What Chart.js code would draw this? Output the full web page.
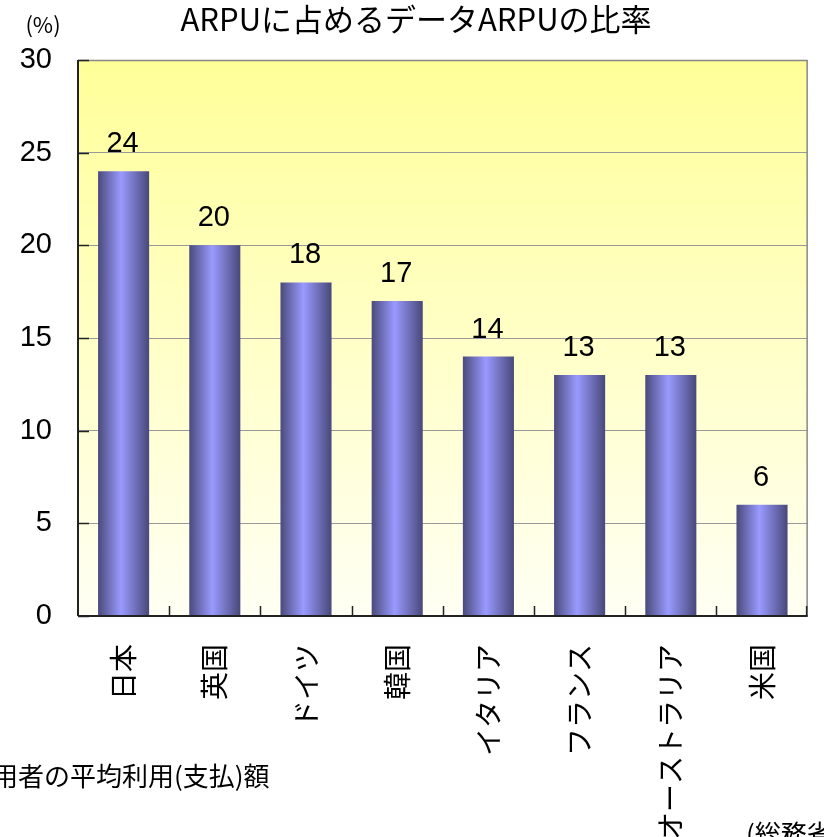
<!DOCTYPE html>
<html><head><meta charset="utf-8">
<script src="https://cdn.jsdelivr.net/npm/chart.js@4"></script>
<style>html,body{margin:0;padding:0;background:#fff}#wrap{width:824px;height:837px}</style>
</head><body><div id="wrap"><canvas id="c" width="824" height="837"></canvas></div>
<script>
const categories = ['日本','英国','ドイツ','韓国','イタリア','フランス','オーストラリア','米国'];
const values = [24, 20, 18, 17, 14, 13, 13, 6];
const yTicks = [0, 5, 10, 15, 20, 25, 30];
const titleText = 'ARPUに占めるデータARPUの比率';
const unitText = '(%)';
const noteText = '用者の平均利用(支払)額';
const sourceText = '(総務省';

const JP = '"Noto Sans CJK JP", "Liberation Sans", sans-serif';
const NUM = '"Liberation Sans", Arial, sans-serif';
const BAR_PCT = 0.56;

function barGradient(ctx) {
  const chart = ctx.chart;
  const xs = chart.scales.x;
  if (!xs || !chart.chartArea) return '#8888ee';
  const c = xs.getPixelForValue(ctx.dataIndex);
  const hw = (xs.width / categories.length) * BAR_PCT / 2;
  const g = chart.ctx.createLinearGradient(c - hw, 0, c + hw, 0);
  g.addColorStop(0, '#4a4a7c');
  g.addColorStop(0.45, '#9a9aff');
  g.addColorStop(1, '#48487a');
  return g;
}

const deco = {
  id: 'deco',
  beforeDraw(chart) {
    const {ctx, chartArea: a} = chart;
    const g = ctx.createLinearGradient(0, a.top, 0, a.bottom);
    g.addColorStop(0, '#ffff99');
    g.addColorStop(1, '#fffff4');
    ctx.save();
    ctx.fillStyle = g;
    ctx.fillRect(a.left, a.top, a.right - a.left, a.bottom - a.top);
    ctx.restore();
  },
  afterDatasetsDraw(chart) {
    const {ctx, chartArea: a, scales: {x, y}} = chart;
    ctx.save();
    ctx.strokeStyle = '#888';
    ctx.lineWidth = 1.5;
    ctx.beginPath();
    ctx.moveTo(a.left, a.top + 0.5); ctx.lineTo(a.right, a.top + 0.5);
    ctx.moveTo(a.right - 0.5, a.top); ctx.lineTo(a.right - 0.5, a.bottom);
    ctx.stroke();
    ctx.strokeStyle = '#222';
    ctx.lineWidth = 2;
    ctx.beginPath();
    ctx.moveTo(a.left, a.top); ctx.lineTo(a.left, a.bottom);
    ctx.moveTo(a.left, a.bottom); ctx.lineTo(a.right, a.bottom);
    ctx.stroke();
    ctx.lineWidth = 1.5;
    ctx.beginPath();
    yTicks.forEach(v => {
      const py = Math.round(y.getPixelForValue(v)) + 0.5;
      ctx.moveTo(a.left, py); ctx.lineTo(a.left + 11, py);
    });
    for (let i = 1; i < categories.length; i++) {
      const px = Math.round((x.getPixelForValue(i - 1) + x.getPixelForValue(i)) / 2) + 0.5;
      ctx.moveTo(px, a.bottom); ctx.lineTo(px, a.bottom - 10);
    }
    ctx.moveTo(a.right - 1, a.bottom); ctx.lineTo(a.right - 1, a.bottom - 10);
    ctx.stroke();
    ctx.fillStyle = '#000';
    ctx.font = '29px ' + NUM;
    ctx.textAlign = 'center';
    ctx.textBaseline = 'alphabetic';
    const meta = chart.getDatasetMeta(0);
    meta.data.forEach((bar, i) => {
      ctx.fillText(String(values[i]), bar.x - 1, bar.y - 19);
    });
    ctx.font = '31px ' + JP;
    ctx.textBaseline = 'middle';
    ctx.fillText(titleText, 416, 19);
    ctx.font = '22px ' + JP;
    ctx.fillText(unitText, 43, 25);
    ctx.textAlign = 'left';
    ctx.font = '26px ' + JP;
    ctx.fillText(noteText, -8, 776);
    ctx.fillText(sourceText, 746, 834);
    ctx.restore();
  }
};

new Chart(document.getElementById('c'), {
  type: 'bar',
  data: {
    labels: categories,
    datasets: [{
      data: values,
      backgroundColor: barGradient,
      borderWidth: 0,
      barPercentage: BAR_PCT,
      categoryPercentage: 1
    }]
  },
  options: {
    responsive: false,
    animation: false,
    events: [],
    layout: {padding: {top: 60, right: 6, left: 0, bottom: 0}},
    plugins: {legend: {display: false}, title: {display: false}, tooltip: {enabled: false}},
    scales: {
      x: {
        grid: {display: false, drawTicks: false},
        border: {display: false},
        ticks: {
          color: '#000',
          font: {family: JP, size: 28},
          maxRotation: 90, minRotation: 90,
          autoSkip: false,
          padding: 28
        },
        afterFit(s) { s.height = 221; }
      },
      y: {
        min: 0, max: 30,
        afterBuildTicks(s) { s.ticks = yTicks.map(v => ({value: v})); },
        grid: {color: '#999', lineWidth: 1, drawTicks: false},
        border: {display: false},
        ticks: {
          color: '#000',
          font: {family: NUM, size: 29},
          crossAlign: 'near',
          padding: 26
        },
        afterFit(s) { s.width = 78; }
      }
    }
  },
  plugins: [deco]
});
</script>
</body></html>
